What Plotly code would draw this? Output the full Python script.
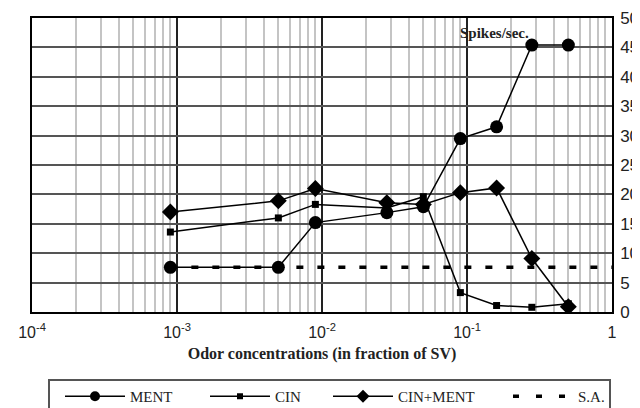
import plotly.graph_objects as go

# ---- data ----
conc = [0.0009, 0.005, 0.009, 0.028, 0.05, 0.09, 0.16, 0.28, 0.5]
ment = [7.6, 7.6, 15.2, 16.9, 17.9, 29.5, 31.5, 45.4, 45.4]
cin = [13.6, 16.0, 18.3, 17.7, 19.6, 3.3, 1.1, 0.8, 1.4]
cin_ment = [17.0, 18.9, 21.0, 18.6, 18.3, 20.3, 21.1, 9.1, 0.9]
sa_x = [0.0009, 1.0]
sa_y = [7.6, 7.6]

x_tickvals = [1e-4, 1e-3, 1e-2, 1e-1, 1]
x_ticktext = ["10<sup>-4</sup>", "10<sup>-3</sup>", "10<sup>-2</sup>", "10<sup>-1</sup>", "1"]
y_tickvals = [0, 5, 10, 15, 20, 25, 30, 35, 40, 45, 50]

# page offset from the default body margin (8px)
OFF = 8
W, H = 640 - OFF, 408 - OFF
L, R, T, B = 32 - OFF, 28, 18 - OFF, 96
PW, PH = W - L - R, H - T - B


def px_x(p):
    return (p - OFF - L) / PW


def px_y(p):
    return (H - B - (p - OFF)) / PH


fig = go.Figure()
line = dict(color="black", width=1.5)

fig.add_trace(go.Scatter(x=sa_x, y=sa_y, mode="lines", showlegend=False,
                         line=dict(color="black", width=3.5, dash="7px,14px")))
fig.add_trace(go.Scatter(x=conc, y=ment, mode="lines+markers", showlegend=False,
                         line=line, marker=dict(symbol="circle", size=13, color="black")))
fig.add_trace(go.Scatter(x=conc, y=cin, mode="lines+markers", showlegend=False,
                         line=line, marker=dict(symbol="square", size=7, color="black")))
fig.add_trace(go.Scatter(x=conc, y=cin_ment, mode="lines+markers", showlegend=False,
                         line=line, marker=dict(symbol="diamond", size=13, color="black")))

# legend entries (no data)
fig.add_trace(go.Scatter(x=[None], y=[None], name="MENT", mode="lines+markers", legend="legend",
                         line=line, marker=dict(symbol="circle", size=10, color="black")))
fig.add_trace(go.Scatter(x=[None], y=[None], name="CIN", mode="lines+markers", legend="legend2",
                         line=line, marker=dict(symbol="square", size=6, color="black")))
fig.add_trace(go.Scatter(x=[None], y=[None], name="CIN+MENT", mode="lines+markers", legend="legend3",
                         line=line, marker=dict(symbol="diamond", size=10, color="black")))
fig.add_trace(go.Scatter(x=[None], y=[None], name="S.A.", mode="lines", legend="legend4",
                         line=dict(color="black", width=3.5, dash="6px,17px")))

leg_font = dict(family="Liberation Serif", size=15, color="#222")


def leg(xpx):
    return dict(x=px_x(xpx), y=px_y(380), xanchor="left", yanchor="top",
                orientation="h", bgcolor="rgba(0,0,0,0)", borderwidth=0,
                font=leg_font, itemwidth=60)


fig.update_layout(
    width=W, height=H,
    margin=dict(l=L, r=R, t=T, b=B, pad=0, autoexpand=False),
    paper_bgcolor="white", plot_bgcolor="white",
    showlegend=True,
    legend=leg(60), legend2=leg(205), legend3=leg(328), legend4=leg(508),
    xaxis=dict(
        type="log", range=[-4, 0],
        tickmode="array", tickvals=x_tickvals, ticktext=x_ticktext,
        tickfont=dict(family="Liberation Sans", size=16, color="#222"),
        ticklabelstandoff=5,
        showgrid=True, gridcolor="#222", gridwidth=1.5,
        minor=dict(dtick="D1", showgrid=True, gridcolor="#c4c4c4", gridwidth=1.8, ticks=""),
        showline=True, linecolor="black", linewidth=1.5, mirror=True,
        ticks="", zeroline=False,
        title=dict(text="<b>Odor concentrations (in fraction of SV)</b>",
                   font=dict(family="Liberation Serif", size=16, color="#222"), standoff=8),
    ),
    yaxis=dict(
        range=[0, 50], side="right",
        tickmode="array", tickvals=y_tickvals,
        tickfont=dict(family="Liberation Sans", size=17, color="#222"),
        ticklabelstandoff=3,
        showgrid=True, gridcolor="#555", gridwidth=1.5,
        showline=True, linecolor="black", linewidth=1.5, mirror=True,
        ticks="", zeroline=False,
    ),
    annotations=[dict(x=-1.06, y=47.5, xref="x", yref="y", text="<b>Spikes/sec.</b>",
                      showarrow=False, xanchor="left", yanchor="middle",
                      font=dict(family="Liberation Serif", size=15, color="#222"))],
    shapes=[dict(type="rect", xref="paper", yref="paper",
                 x0=px_x(49), x1=px_x(610), y0=px_y(420), y1=px_y(380),
                 line=dict(color="#555", width=2), fillcolor="rgba(0,0,0,0)", layer="above")],
)

fig.write_html("out.html")
